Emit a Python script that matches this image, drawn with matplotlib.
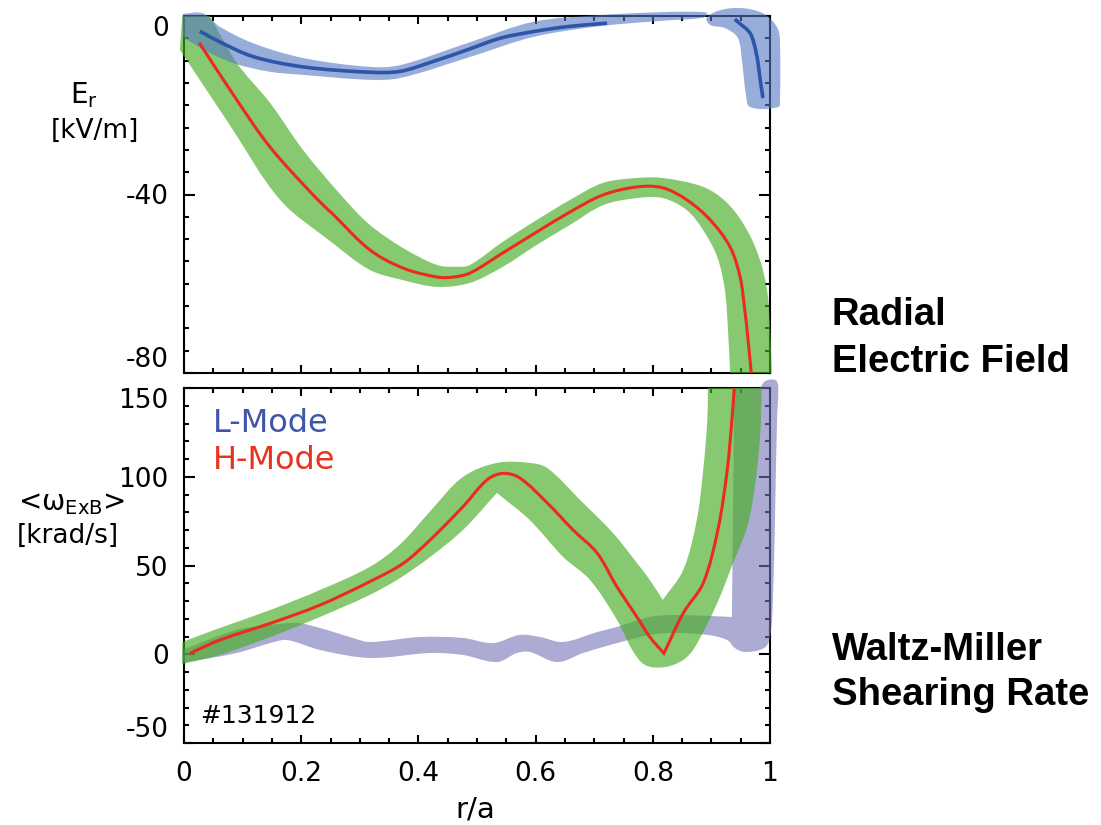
import numpy as np
import matplotlib
matplotlib.use('Agg')
import matplotlib.pyplot as plt
from matplotlib.ticker import MultipleLocator
from matplotlib.path import Path
from matplotlib.patches import PathPatch

plt.rcParams['font.family'] = 'DejaVu Sans'
plt.rcParams['mathtext.default'] = 'regular'
plt.rcParams['axes.unicode_minus'] = False

# ---------------- data ----------------
r_ticks = [0, 0.2, 0.4, 0.6, 0.8, 1.0]
r_ticklabels = ['0', '0.2', '0.4', '0.6', '0.8', '1']
er_ticks = [0, -40, -80]
er_ticklabels = ['0', '-40', '-80']
w_ticks = [-50, 0, 50, 100, 150]
w_ticklabels = ['-50', '0', '50', '100', '150']

# Er, H-mode profile (red)
er_h_x = [0.026, 0.090, 0.147, 0.224, 0.254, 0.317, 0.374, 0.432, 0.459, 0.488, 0.544, 0.602,
          0.659, 0.715, 0.773, 0.817, 0.858, 0.898, 0.932, 0.949, 0.957, 0.962, 0.968]
er_h_y = [-6.0, -18.8, -29.4, -40.6, -44.4, -52.4, -56.5, -58.5, -58.5, -57.6, -53.1, -48.4,
          -43.9, -40.1, -38.3, -38.5, -41.2, -45.7, -51.8, -58.5, -65.9, -71.9, -80.0]
# Er, H-mode uncertainty band (green): upper and lower edges
er_h_up_x = [-0.003, 0.044, 0.090, 0.147, 0.203, 0.271, 0.317, 0.374, 0.432, 0.466, 0.488, 0.544,
             0.602, 0.659, 0.715, 0.773, 0.817, 0.886, 0.927, 0.961, 0.983, 0.995, 1.000, 1.003]
er_h_up_y = [0.0, 0.0, -10.5, -19.5, -30.0, -40.6, -46.8, -52.0, -55.8, -56.2, -55.8, -50.6,
             -45.7, -41.2, -37.4, -36.3, -36.3, -38.3, -41.9, -48.0, -54.7, -61.4, -68.8, -80.0]
er_h_lo_x = [-0.007, 0.078, 0.164, 0.254, 0.317, 0.374, 0.432, 0.488, 0.544, 0.602, 0.659, 0.715,
             0.773, 0.817, 0.858, 0.886, 0.910, 0.923, 0.928, 0.932]
er_h_lo_y = [-7.6, -24.4, -41.2, -50.9, -56.9, -59.2, -60.7, -59.8, -56.2, -51.3, -46.8, -42.4,
             -40.8, -40.8, -43.5, -48.0, -54.0, -61.4, -69.7, -80.0]

# Er, L-mode profile (blue): core segment and edge segment
er_l_x1 = [0.027, 0.061, 0.118, 0.203, 0.317, 0.369, 0.425, 0.483, 0.539, 0.596, 0.653, 0.722]
er_l_y1 = [-3.4, -5.8, -9.1, -11.4, -12.6, -12.4, -10.2, -7.6, -5.0, -3.5, -2.4, -1.6]
er_l_x2 = [0.940, 0.969, 0.988]
er_l_y2 = [-0.7, -4.6, -18.4]
# Er, L-mode band (blue), core part: upper and lower edges
er_l_up_x = [-0.002, 0.032, 0.061, 0.118, 0.203, 0.317, 0.369, 0.483, 0.596, 0.709, 0.823, 0.880, 0.893]
er_l_up_y = [0.5, 0.6, -2.4, -6.1, -9.4, -11.4, -11.0, -6.1, -1.3, 0.2, 0.9, 0.9, 0.4]
er_l_lo_x = [-0.002, 0.044, 0.090, 0.147, 0.203, 0.317, 0.369, 0.483, 0.596, 0.709, 0.823, 0.880]
er_l_lo_y = [-4.7, -8.3, -10.8, -12.5, -13.2, -14.3, -13.9, -9.4, -4.7, -2.3, -1.0, -0.5]
# Er, L-mode band (blue), edge part outline
er_l_edge_x = [0.892, 0.915, 0.949, 0.983, 1.003, 1.014, 1.017, 1.017, 1.014, 0.966, 0.959,
               0.952, 0.945, 0.923, 0.898]
er_l_edge_y = [-0.4, 1.3, 1.8, 0.9, -0.9, -3.1, -5.4, -18.8, -20.4, -20.4, -17.7,
               -9.9, -4.9, -2.7, -2.0]

# Shearing rate, H-mode (red)
w_h_x = [0.010, 0.061, 0.147, 0.232, 0.317, 0.374, 0.420, 0.476, 0.517, 0.544, 0.573, 0.620,
         0.664, 0.705, 0.739, 0.773, 0.795, 0.819, 0.852, 0.886, 0.911, 0.927, 0.935, 0.939]
w_h_y = [0.5, 8.0, 17.4, 27.7, 40.9, 51.2, 64.4, 83.1, 98.2, 101.9, 99.3, 85.2,
         70.0, 57.0, 37.9, 21.0, 9.7, 0.5, 23.2, 40.1, 70.0, 103.8, 132.0, 150.0]
# Shearing rate, H-mode band (green) outline
w_h_band_x = [-0.003, 0.061, 0.147, 0.232, 0.317, 0.369, 0.420, 0.476, 0.534, 0.590, 0.620, 0.676,
              0.732, 0.773, 0.795, 0.817, 0.852, 0.875, 0.886, 0.893, 0.894, 0.986, 0.983, 0.974,
              0.961, 0.937, 0.910, 0.872, 0.852, 0.821, 0.787, 0.765, 0.739, 0.693, 0.647, 0.590,
              0.534, 0.476, 0.420, 0.369, 0.317, 0.232, 0.147, 0.061, -0.003]
w_h_band_y = [6.9, 14.8, 24.9, 36.2, 49.2, 62.0, 80.5, 99.9, 107.8, 107.8, 104.9, 86.9,
              68.3, 51.4, 41.8, 30.6, 47.5, 75.6, 103.8, 132.0, 150.0, 150.0, 122.4, 94.2,
              71.7, 51.4, 28.9, 4.1, -3.2, -7.2, -6.1, 2.4, 19.3, 41.8, 54.8, 75.6,
              90.9, 70.0, 54.8, 43.0, 33.4, 21.0, 9.7, -0.4, -5.5]
# Shearing rate, L-mode band (purple) outline
w_l_band_x = [-0.003, 0.090, 0.147, 0.193, 0.232, 0.288, 0.317, 0.403, 0.476, 0.527, 0.573, 0.608,
              0.647, 0.705, 0.739, 0.795, 0.835, 0.893, 0.935, 0.939, 0.983, 0.992, 1.009, 1.014,
              1.012, 1.005, 1.000, 0.990, 0.957, 0.940, 0.927, 0.893, 0.835, 0.795, 0.739, 0.681,
              0.637, 0.590, 0.568, 0.534, 0.476, 0.420, 0.317, 0.232, 0.176, 0.147, 0.090, -0.003]
w_l_band_y = [2.4, 13.7, 16.5, 17.6, 14.8, 9.2, 6.9, 9.7, 9.2, 6.3, 10.9, 9.7,
              6.9, 12.5, 15.4, 21.0, 22.1, 21.6, 21.0, 150.0, 150.0, 153.9, 154.5, 151.1,
              132.0, 30.6, 9.7, 3.5, 1.3, 3.5, 8.0, 10.9, 12.0, 10.9, 6.3, 0.7,
              -4.4, 1.3, 0.7, -4.4, -0.4, 0.7, -2.1, 2.4, 8.0, 6.3, 0.7, -4.9]

# ---------------- colours ----------------
GREEN = (0.277, 0.677, 0.138)
BLUEB = (0.333, 0.467, 0.767)
PURPLE = (0.45, 0.45, 0.717)
RED = '#ec2a1e'
BLUE = '#2d55a8'


def smooth_path(xs, ys, aspect, closed=False, corners=()):
    """Smooth Bezier path through the data points (tangent direction from neighbours,
    handle length from segment length, computed in a screen-like metric)."""
    p = np.column_stack([xs, ys]).astype(float)
    sc = np.array([1.0, aspect])
    q = p * sc
    n = len(p)
    corners = set(i % n for i in corners)

    def direction(i, fallback):
        if i in corners or (not closed and (i == 0 or i == n - 1)):
            d = fallback
        else:
            d = q[(i + 1) % n] - q[(i - 1) % n]
        nrm = np.hypot(*d)
        return d / nrm if nrm > 0 else d

    verts = [q[0]]
    codes = [Path.MOVETO]
    nseg = n if closed else n - 1
    for i in range(nseg):
        j = (i + 1) % n
        a, b = q[i], q[j]
        seg = b - a
        L = np.hypot(*seg)
        da = direction(i, seg)
        db = direction(j, seg)
        verts += [a + da * L / 3.0, b - db * L / 3.0, b]
        codes += [Path.CURVE4] * 3
    if closed:
        verts.append(q[0])
        codes.append(Path.CLOSEPOLY)
    return Path(np.array(verts) / sc, codes)


def add_band(ax, xs, ys, aspect, color, alpha, z, corners):
    ax.add_patch(PathPatch(smooth_path(xs, ys, aspect, True, corners), facecolor=color,
                           alpha=alpha, lw=0, zorder=z, clip_on=False))


def add_line(ax, xs, ys, aspect, color, lw, z, corners=()):
    ax.add_patch(PathPatch(smooth_path(xs, ys, aspect, False, corners), facecolor='none',
                           edgecolor=color, lw=lw, zorder=z, clip_on=False,
                           capstyle='butt', joinstyle='miter'))


W, H = 1101, 825
fig = plt.figure(figsize=(W / 100, H / 100), dpi=100)
ax1 = fig.add_axes([184 / W, 1 - 373 / H, 586 / W, 357 / H])
ax2 = fig.add_axes([184 / W, 1 - 743 / H, 586 / W, 355 / H])
ASP1 = (357 / 80) / 586    # pixel aspect of top panel data units
ASP2 = (355 / 200) / 586   # pixel aspect of bottom panel data units


def style(ax, ymin_step):
    ax.set_xlim(0, 1)
    ax.set_xticks(r_ticks)
    ax.xaxis.set_minor_locator(MultipleLocator(0.05))
    ax.yaxis.set_minor_locator(MultipleLocator(ymin_step))
    ax.tick_params(which='both', direction='in', top=True, right=True, width=1.5,
                   labelsize=19, colors='black')
    ax.tick_params(axis='y', which='major', length=8, pad=11)
    ax.tick_params(axis='x', which='major', length=6, pad=13)
    ax.tick_params(which='minor', length=3.5)
    for s in ax.spines.values():
        s.set_linewidth(1.5)


# ---- top panel ----
style(ax1, 5)
ax1.set_ylim(-80, 0)
ax1.set_yticks(er_ticks)
ax1.set_yticklabels(er_ticklabels)
ax1.set_xticklabels([])
yt = ax1.yaxis.get_major_ticks()
yt[0].label1.set_verticalalignment('top')
yt[2].label1.set_verticalalignment('bottom')

nu, nl = len(er_h_up_x), len(er_h_lo_x)
add_band(ax1, er_h_up_x + er_h_lo_x[::-1], er_h_up_y + er_h_lo_y[::-1], ASP1, GREEN, 0.65, 3,
         corners=(0, 1, nu - 1, nu, nu + nl - 1))
nu2, nl2 = len(er_l_up_x), len(er_l_lo_x)
add_band(ax1, er_l_up_x + er_l_lo_x[::-1], er_l_up_y + er_l_lo_y[::-1], ASP1, BLUEB, 0.6, 4,
         corners=(0, nu2 + nl2 - 1))
add_band(ax1, er_l_edge_x, er_l_edge_y, ASP1, BLUEB, 0.6, 4, corners=())
add_line(ax1, er_l_x1, er_l_y1, ASP1, BLUE, 2.6, 6)
add_line(ax1, er_l_x2, er_l_y2, ASP1, BLUE, 2.6, 6)
add_line(ax1, er_h_x, er_h_y, ASP1, RED, 2.2, 6)

# ---- bottom panel ----
style(ax2, 10)
ax2.set_ylim(-50, 150)
ax2.set_yticks(w_ticks)
ax2.set_yticklabels(w_ticklabels)
ax2.set_xticklabels(r_ticklabels)
yt2 = ax2.yaxis.get_major_ticks()
yt2[0].label1.set_verticalalignment('bottom')
yt2[-1].label1.set_verticalalignment('top')

add_band(ax2, w_l_band_x, w_l_band_y, ASP2, PURPLE, 0.6, 3, corners=(0, 18, 19, 20, 47))
add_band(ax2, w_h_band_x, w_h_band_y, ASP2, GREEN, 0.65, 4, corners=(0, 15, 20, 21, 36, 44))
v_idx = 10 + int(np.argmin(w_h_y[10:]))
add_line(ax2, w_h_x, w_h_y, ASP2, RED, 2.2, 6, corners=(v_idx,))

ax2.text(0.05, 0.9, 'L-Mode', transform=ax2.transAxes, color='#3f56a6', fontsize=23,
         ha='left', va='center')
ax2.text(0.05, 0.795, 'H-Mode', transform=ax2.transAxes, color='#e8321e', fontsize=23,
         ha='left', va='center')
ax2.text(0.027, 0.075, '#131912', transform=ax2.transAxes, color='black', fontsize=18,
         ha='left', va='center')


def ftext(px, py, s, **kw):
    fig.text(px / W, 1 - py / H, s, **kw)


ftext(84, 103, r'E$_r$', fontsize=20, ha='center', va='baseline')
ftext(95, 138, '[kV/m]', fontsize=19, ha='center', va='baseline')
ftext(72, 510, r'<$\omega_{ExB}$>', fontsize=20, ha='center', va='baseline')
ftext(68, 543, '[krad/s]', fontsize=19, ha='center', va='baseline')
ftext(475, 818, 'r/a', fontsize=21, ha='center', va='baseline')

bold = dict(fontsize=27.5, fontweight='bold', family='Liberation Sans', ha='left', va='baseline')
ftext(832, 325, 'Radial', **bold)
ftext(832, 372, 'Electric Field', **bold)
ftext(832, 660, 'Waltz-Miller', **bold)
ftext(832, 705, 'Shearing Rate', **bold)

fig.savefig('out.png', dpi=100)
